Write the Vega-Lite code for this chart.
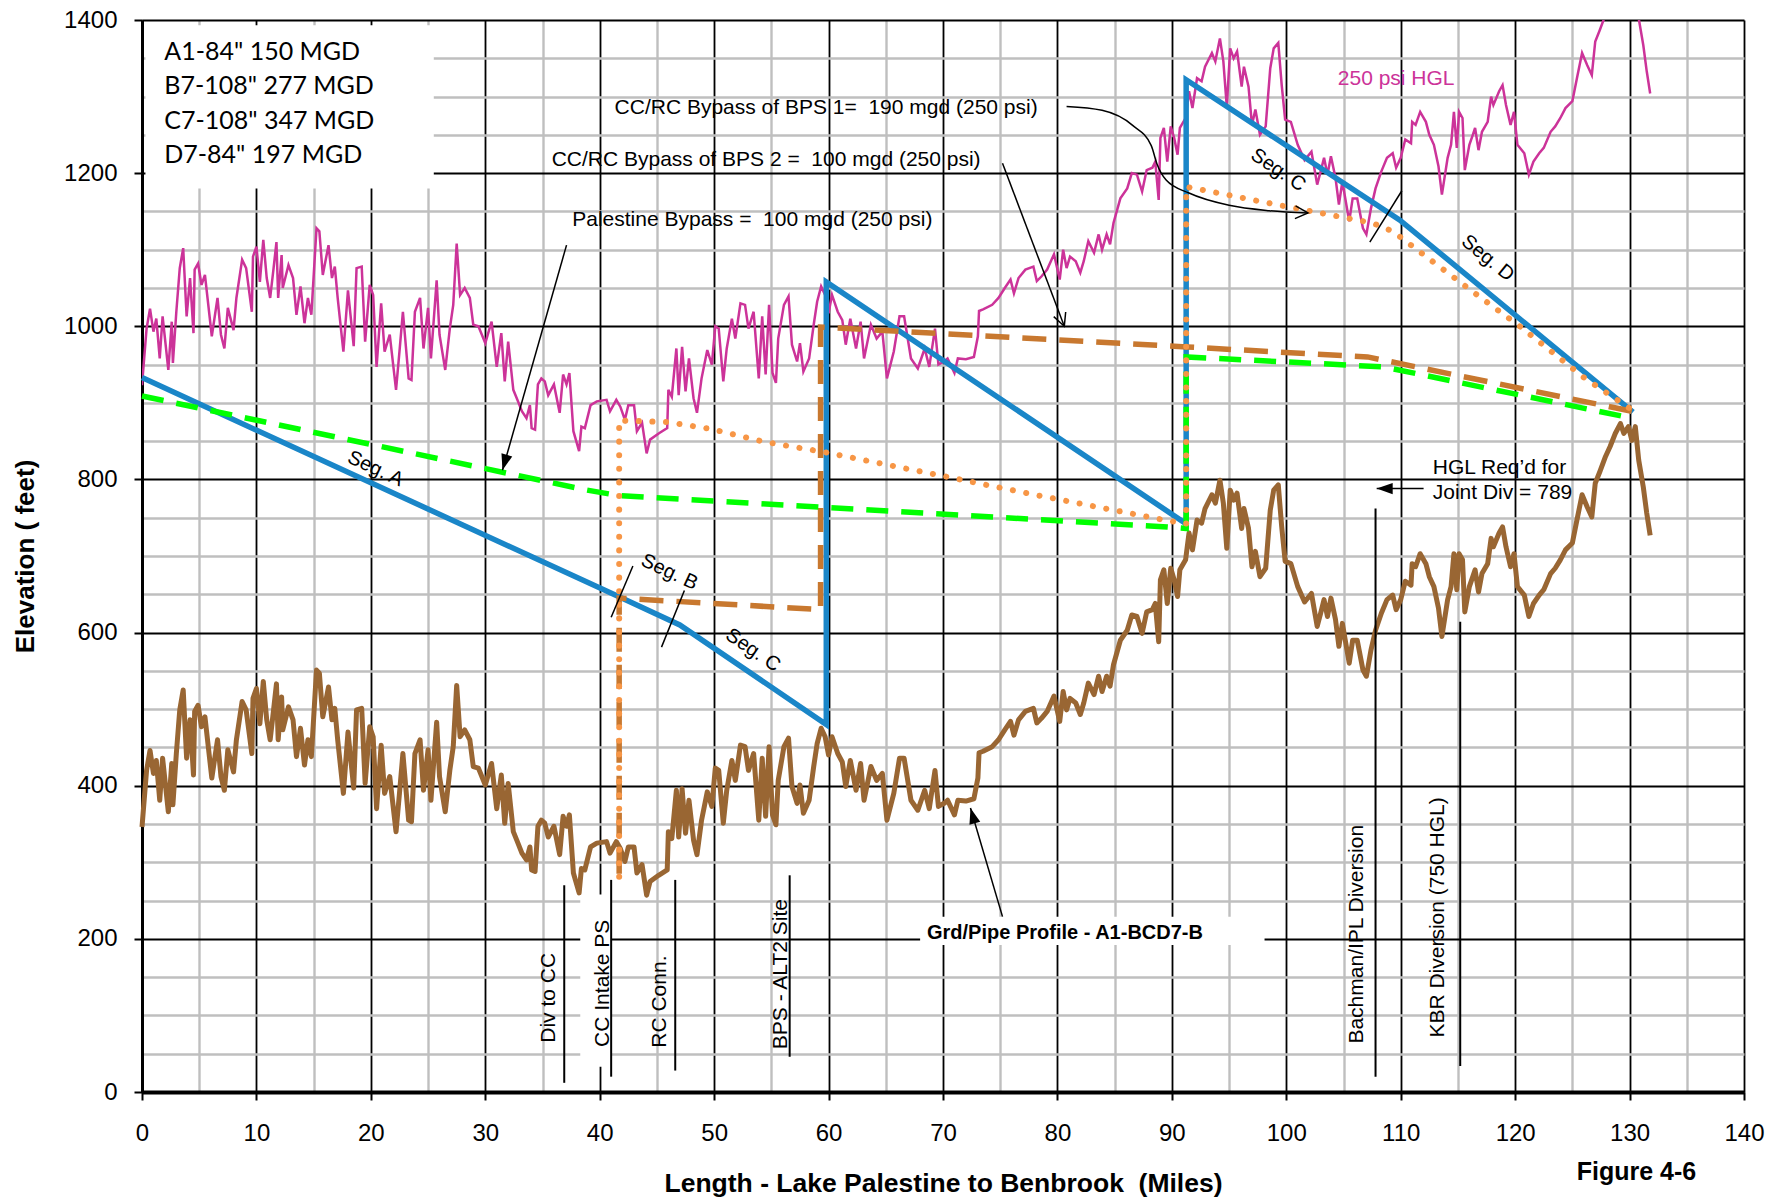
{
"$schema":"https://vega.github.io/schema/vega-lite/v6.json",
"width":1602,"height":1072,
"autosize":{"type":"none"},
"padding":{"left":142,"top":20,"right":26,"bottom":106},
"background":"#ffffff",
"config":{"view":{"stroke":null},"font":"Liberation Sans"},
"datasets":{
"boxes":[{"m":0.3,"m2":25.5,"e":1180,"e2":1393},{"m":38.3,"m2":41.0,"e":33,"e2":258},{"m":68,"m2":98.1,"e":192,"e2":229}],
"ground":[{"m":0,"e":346},{"m":0.4,"e":420},{"m":0.7,"e":446},{"m":1,"e":416},{"m":1.25,"e":433},{"m":1.55,"e":381},{"m":1.8,"e":436},{"m":2.3,"e":366},{"m":2.6,"e":429},{"m":2.7,"e":375},{"m":3,"e":442},{"m":3.3,"e":499},{"m":3.6,"e":525},{"m":3.9,"e":436},{"m":4.2,"e":486},{"m":4.5,"e":414},{"m":4.6,"e":497},{"m":4.9,"e":505},{"m":5.2,"e":477},{"m":5.5,"e":490},{"m":6.1,"e":410},{"m":6.6,"e":460},{"m":6.9,"e":412},{"m":7.2,"e":394},{"m":7.5,"e":447},{"m":8,"e":418},{"m":8.25,"e":460},{"m":8.75,"e":510},{"m":9.1,"e":499},{"m":9.6,"e":442},{"m":9.7,"e":514},{"m":10,"e":527},{"m":10.3,"e":481},{"m":10.6,"e":536},{"m":10.9,"e":486},{"m":11.2,"e":460},{"m":11.5,"e":499},{"m":11.75,"e":533},{"m":11.9,"e":460},{"m":12.2,"e":516},{"m":12.3,"e":473},{"m":12.8,"e":503},{"m":13.2,"e":486},{"m":13.5,"e":438},{"m":13.85,"e":475},{"m":14.2,"e":427},{"m":14.5,"e":460},{"m":14.8,"e":438},{"m":15.25,"e":551},{"m":15.5,"e":547},{"m":15.8,"e":490},{"m":16.3,"e":529},{"m":16.6,"e":486},{"m":16.85,"e":501},{"m":17.1,"e":460},{"m":17.6,"e":390},{"m":18,"e":470},{"m":18.5,"e":397},{"m":18.75,"e":499},{"m":19.2,"e":501},{"m":19.5,"e":403},{"m":19.9,"e":477},{"m":20.2,"e":464},{"m":20.5,"e":370},{"m":20.9,"e":453},{"m":21.2,"e":390},{"m":21.65,"e":412},{"m":22.2,"e":340},{"m":22.5,"e":390},{"m":22.8,"e":442},{"m":23.3,"e":355},{"m":23.55,"e":353},{"m":23.85,"e":442},{"m":24.3,"e":460},{"m":24.6,"e":394},{"m":25,"e":447},{"m":25.25,"e":381},{"m":25.75,"e":483},{"m":26,"e":412},{"m":26.5,"e":366},{"m":26.9,"e":420},{"m":27.2,"e":451},{"m":27.5,"e":531},{"m":27.8,"e":464},{"m":28.2,"e":473},{"m":28.65,"e":460},{"m":28.95,"e":425},{"m":29.4,"e":423},{"m":30,"e":401},{"m":30.55,"e":429},{"m":31,"e":370},{"m":31.4,"e":414},{"m":31.7,"e":351},{"m":32,"e":403},{"m":32.45,"e":340},{"m":32.75,"e":329},{"m":33.2,"e":312},{"m":33.6,"e":303},{"m":33.9,"e":320},{"m":34.05,"e":290},{"m":34.35,"e":288},{"m":34.6,"e":347},{"m":34.9,"e":355},{"m":35.2,"e":351},{"m":35.5,"e":333},{"m":36,"e":347},{"m":36.5,"e":310},{"m":36.8,"e":360},{"m":37.1,"e":347},{"m":37.35,"e":362},{"m":37.7,"e":286},{"m":38.2,"e":260},{"m":38.4,"e":292},{"m":38.7,"e":290},{"m":39.2,"e":320},{"m":39.75,"e":325},{"m":40.6,"e":327},{"m":40.9,"e":312},{"m":41.45,"e":327},{"m":41.8,"e":318},{"m":42.2,"e":301},{"m":42.5,"e":320},{"m":43,"e":320},{"m":43.25,"e":286},{"m":43.7,"e":297},{"m":44.1,"e":257},{"m":44.4,"e":275},{"m":45.15,"e":283},{"m":45.9,"e":290},{"m":46,"e":340},{"m":46.3,"e":331},{"m":46.7,"e":394},{"m":46.9,"e":333},{"m":47.2,"e":396},{"m":47.5,"e":338},{"m":47.8,"e":381},{"m":48.2,"e":329},{"m":48.5,"e":310},{"m":48.9,"e":355},{"m":49.4,"e":392},{"m":49.8,"e":373},{"m":50.1,"e":423},{"m":50.4,"e":420},{"m":50.8,"e":351},{"m":51.1,"e":394},{"m":51.55,"e":433},{"m":51.85,"e":407},{"m":52.3,"e":453},{"m":52.7,"e":451},{"m":53,"e":420},{"m":53.45,"e":442},{"m":53.9,"e":355},{"m":54.2,"e":436},{"m":54.5,"e":360},{"m":54.8,"e":451},{"m":55.1,"e":362},{"m":55.4,"e":349},{"m":55.6,"e":407},{"m":56.1,"e":451},{"m":56.5,"e":462},{"m":56.8,"e":399},{"m":57.25,"e":377},{"m":57.5,"e":401},{"m":57.8,"e":364},{"m":58.3,"e":381},{"m":58.7,"e":425},{"m":59,"e":455},{"m":59.35,"e":475},{"m":59.7,"e":464},{"m":60,"e":440},{"m":60.3,"e":464},{"m":60.8,"e":442},{"m":61.2,"e":431},{"m":61.5,"e":399},{"m":61.9,"e":433},{"m":62.4,"e":394},{"m":62.8,"e":429},{"m":63.1,"e":381},{"m":63.7,"e":425},{"m":64.2,"e":407},{"m":64.7,"e":416},{"m":65.1,"e":355},{"m":65.7,"e":390},{"m":66.2,"e":436},{"m":66.6,"e":436},{"m":67.2,"e":381},{"m":67.8,"e":368},{"m":68.4,"e":394},{"m":68.8,"e":370},{"m":69.3,"e":420},{"m":69.6,"e":373},{"m":70.1,"e":377},{"m":70.4,"e":381},{"m":71,"e":362},{"m":71.3,"e":381},{"m":72,"e":380},{"m":72.7,"e":383},{"m":73.05,"e":410},{"m":73.15,"e":443},{"m":73.5,"e":445},{"m":74.3,"e":451},{"m":74.85,"e":460},{"m":75.4,"e":473},{"m":75.9,"e":484},{"m":76.2,"e":466},{"m":76.6,"e":486},{"m":77.2,"e":497},{"m":77.9,"e":501},{"m":78.2,"e":482},{"m":78.6,"e":488},{"m":79.1,"e":497},{"m":79.7,"e":517},{"m":80.2,"e":484},{"m":80.5,"e":523},{"m":80.8,"e":499},{"m":81.1,"e":514},{"m":81.6,"e":508},{"m":82,"e":493},{"m":82.3,"e":508},{"m":82.7,"e":534},{"m":83.2,"e":519},{"m":83.6,"e":543},{"m":83.9,"e":523},{"m":84.3,"e":543},{"m":84.6,"e":530},{"m":84.9,"e":558},{"m":85.5,"e":590},{"m":86.1,"e":603},{"m":86.5,"e":623},{"m":86.95,"e":621},{"m":87.4,"e":599},{"m":87.8,"e":627},{"m":88.3,"e":630},{"m":88.55,"e":638},{"m":88.85,"e":588},{"m":89,"e":669},{"m":89.3,"e":682},{"m":89.6,"e":638},{"m":89.9,"e":684},{"m":90.2,"e":669},{"m":90.5,"e":647},{"m":90.7,"e":682},{"m":91.2,"e":695},{"m":91.5,"e":730},{"m":91.8,"e":708},{"m":92.2,"e":747},{"m":92.6,"e":743},{"m":92.9,"e":762},{"m":93.5,"e":780},{"m":93.8,"e":769},{"m":94.2,"e":799},{"m":94.5,"e":769},{"m":94.8,"e":710},{"m":95.1,"e":786},{"m":95.4,"e":773},{"m":95.7,"e":782},{"m":96.1,"e":736},{"m":96.3,"e":762},{"m":96.7,"e":736},{"m":97,"e":686},{"m":97.3,"e":706},{"m":97.7,"e":673},{"m":98.2,"e":684},{"m":98.6,"e":760},{"m":98.9,"e":786},{"m":99.3,"e":793},{"m":99.6,"e":738},{"m":99.9,"e":693},{"m":100.4,"e":690},{"m":101,"e":660},{"m":101.6,"e":640},{"m":102.2,"e":651},{"m":102.7,"e":608},{"m":103,"e":625},{"m":103.3,"e":643},{"m":103.6,"e":621},{"m":103.9,"e":645},{"m":104.3,"e":617},{"m":104.6,"e":582},{"m":104.9,"e":612},{"m":105.5,"e":560},{"m":105.8,"e":590},{"m":106.2,"e":590},{"m":106.7,"e":551},{"m":107,"e":543},{"m":107.4,"e":577},{"m":107.8,"e":603},{"m":108.3,"e":625},{"m":108.8,"e":643},{"m":109.3,"e":649},{"m":109.6,"e":630},{"m":110,"e":643},{"m":110.4,"e":667},{"m":110.9,"e":662},{"m":111,"e":690},{"m":111.3,"e":686},{"m":111.7,"e":703},{"m":112.2,"e":690},{"m":112.5,"e":673},{"m":112.9,"e":660},{"m":113.3,"e":632},{"m":113.6,"e":595},{"m":114.1,"e":643},{"m":114.4,"e":660},{"m":114.65,"e":703},{"m":114.9,"e":656},{"m":115.1,"e":703},{"m":115.4,"e":695},{"m":115.6,"e":627},{"m":116,"e":660},{"m":116.3,"e":673},{"m":116.5,"e":682},{"m":116.8,"e":653},{"m":117.1,"e":677},{"m":117.6,"e":690},{"m":117.9,"e":723},{"m":118.1,"e":712},{"m":118.6,"e":730},{"m":118.9,"e":738},{"m":119.2,"e":712},{"m":119.6,"e":686},{"m":119.9,"e":703},{"m":120.2,"e":660},{"m":120.8,"e":649},{"m":121.2,"e":621},{"m":121.6,"e":638},{"m":122.1,"e":649},{"m":122.5,"e":656},{"m":123.1,"e":677},{"m":123.5,"e":684},{"m":123.95,"e":695},{"m":124.4,"e":708},{"m":125,"e":717},{"m":125.4,"e":747},{"m":125.85,"e":780},{"m":126.3,"e":764},{"m":126.7,"e":751},{"m":127,"e":795},{"m":127.4,"e":810},{"m":127.9,"e":830},{"m":128.3,"e":843},{"m":128.75,"e":860},{"m":129.2,"e":873},{"m":129.5,"e":860},{"m":129.9,"e":869},{"m":130.2,"e":851},{"m":130.5,"e":869},{"m":130.8,"e":825},{"m":131.2,"e":790},{"m":131.5,"e":756},{"m":131.8,"e":727}],
"hgl":[{"m":0,"e":923},{"m":0.4,"e":997},{"m":0.7,"e":1023},{"m":1,"e":993},{"m":1.25,"e":1010},{"m":1.55,"e":958},{"m":1.8,"e":1013},{"m":2.3,"e":943},{"m":2.6,"e":1006},{"m":2.7,"e":952},{"m":3,"e":1019},{"m":3.3,"e":1076},{"m":3.6,"e":1102},{"m":3.9,"e":1013},{"m":4.2,"e":1063},{"m":4.5,"e":991},{"m":4.6,"e":1074},{"m":4.9,"e":1082},{"m":5.2,"e":1054},{"m":5.5,"e":1067},{"m":6.1,"e":987},{"m":6.6,"e":1037},{"m":6.9,"e":989},{"m":7.2,"e":971},{"m":7.5,"e":1024},{"m":8,"e":995},{"m":8.25,"e":1037},{"m":8.75,"e":1087},{"m":9.1,"e":1076},{"m":9.6,"e":1019},{"m":9.7,"e":1091},{"m":10,"e":1104},{"m":10.3,"e":1058},{"m":10.6,"e":1113},{"m":10.9,"e":1063},{"m":11.2,"e":1037},{"m":11.5,"e":1076},{"m":11.75,"e":1110},{"m":11.9,"e":1037},{"m":12.2,"e":1093},{"m":12.3,"e":1050},{"m":12.8,"e":1080},{"m":13.2,"e":1063},{"m":13.5,"e":1015},{"m":13.85,"e":1052},{"m":14.2,"e":1004},{"m":14.5,"e":1037},{"m":14.8,"e":1015},{"m":15.25,"e":1128},{"m":15.5,"e":1124},{"m":15.8,"e":1067},{"m":16.3,"e":1106},{"m":16.6,"e":1063},{"m":16.85,"e":1078},{"m":17.1,"e":1037},{"m":17.6,"e":967},{"m":18,"e":1047},{"m":18.5,"e":974},{"m":18.75,"e":1076},{"m":19.2,"e":1078},{"m":19.5,"e":980},{"m":19.9,"e":1054},{"m":20.2,"e":1041},{"m":20.5,"e":947},{"m":20.9,"e":1030},{"m":21.2,"e":967},{"m":21.65,"e":989},{"m":22.2,"e":917},{"m":22.5,"e":967},{"m":22.8,"e":1019},{"m":23.3,"e":932},{"m":23.55,"e":930},{"m":23.85,"e":1019},{"m":24.3,"e":1037},{"m":24.6,"e":971},{"m":25,"e":1024},{"m":25.25,"e":958},{"m":25.75,"e":1060},{"m":26,"e":989},{"m":26.5,"e":943},{"m":26.9,"e":997},{"m":27.2,"e":1028},{"m":27.5,"e":1108},{"m":27.8,"e":1041},{"m":28.2,"e":1050},{"m":28.65,"e":1037},{"m":28.95,"e":1002},{"m":29.4,"e":1000},{"m":30,"e":978},{"m":30.55,"e":1006},{"m":31,"e":947},{"m":31.4,"e":991},{"m":31.7,"e":928},{"m":32,"e":980},{"m":32.45,"e":917},{"m":32.75,"e":906},{"m":33.2,"e":889},{"m":33.6,"e":880},{"m":33.9,"e":897},{"m":34.05,"e":867},{"m":34.35,"e":865},{"m":34.6,"e":924},{"m":34.9,"e":932},{"m":35.2,"e":928},{"m":35.5,"e":910},{"m":36,"e":924},{"m":36.5,"e":887},{"m":36.8,"e":937},{"m":37.1,"e":924},{"m":37.35,"e":939},{"m":37.7,"e":863},{"m":38.2,"e":837},{"m":38.4,"e":869},{"m":38.7,"e":867},{"m":39.2,"e":897},{"m":39.75,"e":902},{"m":40.6,"e":904},{"m":40.9,"e":889},{"m":41.45,"e":904},{"m":41.8,"e":895},{"m":42.2,"e":878},{"m":42.5,"e":897},{"m":43,"e":897},{"m":43.25,"e":863},{"m":43.7,"e":874},{"m":44.1,"e":834},{"m":44.4,"e":852},{"m":45.15,"e":860},{"m":45.9,"e":867},{"m":46,"e":917},{"m":46.3,"e":908},{"m":46.7,"e":971},{"m":46.9,"e":910},{"m":47.2,"e":973},{"m":47.5,"e":915},{"m":47.8,"e":958},{"m":48.2,"e":906},{"m":48.5,"e":887},{"m":48.9,"e":932},{"m":49.4,"e":969},{"m":49.8,"e":950},{"m":50.1,"e":1000},{"m":50.4,"e":997},{"m":50.8,"e":928},{"m":51.1,"e":971},{"m":51.55,"e":1010},{"m":51.85,"e":984},{"m":52.3,"e":1030},{"m":52.7,"e":1028},{"m":53,"e":997},{"m":53.45,"e":1019},{"m":53.9,"e":932},{"m":54.2,"e":1013},{"m":54.5,"e":937},{"m":54.8,"e":1028},{"m":55.1,"e":939},{"m":55.4,"e":926},{"m":55.6,"e":984},{"m":56.1,"e":1028},{"m":56.5,"e":1039},{"m":56.8,"e":976},{"m":57.25,"e":954},{"m":57.5,"e":978},{"m":57.8,"e":941},{"m":58.3,"e":958},{"m":58.7,"e":1002},{"m":59,"e":1032},{"m":59.35,"e":1052},{"m":59.7,"e":1041},{"m":60,"e":1017},{"m":60.3,"e":1041},{"m":60.8,"e":1019},{"m":61.2,"e":1008},{"m":61.5,"e":976},{"m":61.9,"e":1010},{"m":62.4,"e":971},{"m":62.8,"e":1006},{"m":63.1,"e":958},{"m":63.7,"e":1002},{"m":64.2,"e":984},{"m":64.7,"e":993},{"m":65.1,"e":932},{"m":65.7,"e":967},{"m":66.2,"e":1013},{"m":66.6,"e":1013},{"m":67.2,"e":958},{"m":67.8,"e":945},{"m":68.4,"e":971},{"m":68.8,"e":947},{"m":69.3,"e":997},{"m":69.6,"e":950},{"m":70.1,"e":954},{"m":70.4,"e":958},{"m":71,"e":939},{"m":71.3,"e":958},{"m":72,"e":957},{"m":72.7,"e":960},{"m":73.05,"e":987},{"m":73.15,"e":1020},{"m":73.5,"e":1022},{"m":74.3,"e":1028},{"m":74.85,"e":1037},{"m":75.4,"e":1050},{"m":75.9,"e":1061},{"m":76.2,"e":1043},{"m":76.6,"e":1063},{"m":77.2,"e":1074},{"m":77.9,"e":1078},{"m":78.2,"e":1059},{"m":78.6,"e":1065},{"m":79.1,"e":1074},{"m":79.7,"e":1094},{"m":80.2,"e":1061},{"m":80.5,"e":1100},{"m":80.8,"e":1076},{"m":81.1,"e":1091},{"m":81.6,"e":1085},{"m":82,"e":1070},{"m":82.3,"e":1085},{"m":82.7,"e":1111},{"m":83.2,"e":1096},{"m":83.6,"e":1120},{"m":83.9,"e":1100},{"m":84.3,"e":1120},{"m":84.6,"e":1107},{"m":84.9,"e":1135},{"m":85.5,"e":1167},{"m":86.1,"e":1180},{"m":86.5,"e":1200},{"m":86.95,"e":1198},{"m":87.4,"e":1176},{"m":87.8,"e":1204},{"m":88.3,"e":1207},{"m":88.55,"e":1215},{"m":88.85,"e":1165},{"m":89,"e":1246},{"m":89.3,"e":1259},{"m":89.6,"e":1215},{"m":89.9,"e":1261},{"m":90.2,"e":1246},{"m":90.5,"e":1224},{"m":90.7,"e":1259},{"m":91.2,"e":1272},{"m":91.5,"e":1307},{"m":91.8,"e":1285},{"m":92.2,"e":1324},{"m":92.6,"e":1320},{"m":92.9,"e":1339},{"m":93.5,"e":1357},{"m":93.8,"e":1346},{"m":94.2,"e":1376},{"m":94.5,"e":1346},{"m":94.8,"e":1287},{"m":95.1,"e":1363},{"m":95.4,"e":1350},{"m":95.7,"e":1359},{"m":96.1,"e":1313},{"m":96.3,"e":1339},{"m":96.7,"e":1313},{"m":97,"e":1263},{"m":97.3,"e":1283},{"m":97.7,"e":1250},{"m":98.2,"e":1261},{"m":98.6,"e":1337},{"m":98.9,"e":1363},{"m":99.3,"e":1370},{"m":99.6,"e":1315},{"m":99.9,"e":1270},{"m":100.4,"e":1267},{"m":101,"e":1237},{"m":101.6,"e":1217},{"m":102.2,"e":1228},{"m":102.7,"e":1185},{"m":103,"e":1202},{"m":103.3,"e":1220},{"m":103.6,"e":1198},{"m":103.9,"e":1222},{"m":104.3,"e":1194},{"m":104.6,"e":1159},{"m":104.9,"e":1189},{"m":105.5,"e":1137},{"m":105.8,"e":1167},{"m":106.2,"e":1167},{"m":106.7,"e":1128},{"m":107,"e":1120},{"m":107.4,"e":1154},{"m":107.8,"e":1180},{"m":108.3,"e":1202},{"m":108.8,"e":1220},{"m":109.3,"e":1226},{"m":109.6,"e":1207},{"m":110,"e":1220},{"m":110.4,"e":1244},{"m":110.9,"e":1239},{"m":111,"e":1267},{"m":111.3,"e":1263},{"m":111.7,"e":1280},{"m":112.2,"e":1267},{"m":112.5,"e":1250},{"m":112.9,"e":1237},{"m":113.3,"e":1209},{"m":113.6,"e":1172},{"m":114.1,"e":1220},{"m":114.4,"e":1237},{"m":114.65,"e":1280},{"m":114.9,"e":1233},{"m":115.1,"e":1280},{"m":115.4,"e":1272},{"m":115.6,"e":1204},{"m":116,"e":1237},{"m":116.3,"e":1250},{"m":116.5,"e":1259},{"m":116.8,"e":1230},{"m":117.1,"e":1254},{"m":117.6,"e":1267},{"m":117.9,"e":1300},{"m":118.1,"e":1289},{"m":118.6,"e":1307},{"m":118.9,"e":1315},{"m":119.2,"e":1289},{"m":119.6,"e":1263},{"m":119.9,"e":1280},{"m":120.2,"e":1237},{"m":120.8,"e":1226},{"m":121.2,"e":1198},{"m":121.6,"e":1215},{"m":122.1,"e":1226},{"m":122.5,"e":1233},{"m":123.1,"e":1254},{"m":123.5,"e":1261},{"m":123.95,"e":1272},{"m":124.4,"e":1285},{"m":125,"e":1294},{"m":125.4,"e":1324},{"m":125.85,"e":1357},{"m":126.3,"e":1341},{"m":126.7,"e":1328},{"m":127,"e":1372},{"m":127.4,"e":1387},{"m":127.9,"e":1407},{"m":128.3,"e":1420},{"m":128.75,"e":1437},{"m":129.2,"e":1450},{"m":129.5,"e":1437},{"m":129.9,"e":1446},{"m":130.2,"e":1428},{"m":130.5,"e":1446},{"m":130.8,"e":1402},{"m":131.2,"e":1367},{"m":131.5,"e":1333},{"m":131.8,"e":1304}],
"blue":[{"m":0,"e":933},{"m":41.5,"e":648},{"m":47,"e":610},{"m":59.8,"e":480},{"m":59.8,"e":1058},{"m":91.25,"e":742},{"m":91.25,"e":1322},{"m":109.9,"e":1139},{"m":130.3,"e":888}],
"green":[{"m":0,"e":909},{"m":38.9,"e":786},{"m":41.6,"e":779},{"m":59.1,"e":764},{"m":89.6,"e":738},{"m":91.25,"e":736},{"m":91.25,"e":960},{"m":108.5,"e":947},{"m":130.2,"e":880}],
"brownd":[{"m":41.7,"e":285},{"m":41.7,"e":645},{"m":59.3,"e":630},{"m":59.3,"e":999},{"m":91.3,"e":973},{"m":107.1,"e":960},{"m":130.2,"e":889}],
"orange":[{"m":41.7,"e":281},{"m":41.7,"e":877},{"m":45.8,"e":875},{"m":49.7,"e":866},{"m":54.4,"e":849},{"m":59.5,"e":836},{"m":70.5,"e":803},{"m":78,"e":780},{"m":89,"e":748},{"m":91.25,"e":742},{"m":91.25,"e":1182},{"m":93.4,"e":1176},{"m":98.4,"e":1161},{"m":103.3,"e":1147},{"m":107.5,"e":1135},{"m":109.3,"e":1124},{"m":112.4,"e":1089},{"m":116.4,"e":1044},{"m":120.4,"e":1000},{"m":126.1,"e":932},{"m":130.2,"e":891}],
"stations":[{"m":36.9,"e":12,"e2":270},{"m":41.0,"e":20,"e2":277},{"m":46.6,"e":28,"e2":277},{"m":56.6,"e":46,"e2":283},{"m":107.8,"e":20,"e2":762},{"m":115.2,"e":34,"e2":614}],
"slashes":[{"m":41.0,"e":620,"m2":42.9,"e2":687},{"m":45.4,"e":581,"m2":47.4,"e2":655},{"m":107.3,"e":1110,"m2":110.1,"e2":1177}],
"shafts":[{"m":37.1,"e":1106,"m2":31.5,"e2":812},{"m":75.2,"e":1213,"m2":80.6,"e2":1000},{"m":75.2,"e":229,"m2":72.4,"e2":371},{"m":112.0,"e":788,"m2":107.9,"e2":788}],
"curve":[{"m":80.8,"e":1287},{"m":83.9,"e":1282},{"m":86.6,"e":1262},{"m":88.2,"e":1236},{"m":88.7,"e":1212},{"m":89.5,"e":1191},{"m":91.5,"e":1174},{"m":95.0,"e":1158},{"m":98.5,"e":1151},{"m":101.9,"e":1148}],
"legend":[{"m":1.95,"e":1358.6,"t":"A1-84\" 150 MGD"},{"m":1.95,"e":1313.8,"t":"B7-108\" 277 MGD"},{"m":1.95,"e":1268.5,"t":"C7-108\" 347 MGD"},{"m":1.95,"e":1223.7,"t":"D7-84\" 197 MGD"}],
"notes":[{"m":41.3,"e":1285,"t":"CC/RC Bypass of BPS 1=\u00a0 190 mgd (250 psi)"},{"m":35.8,"e":1217,"t":"CC/RC Bypass of BPS 2 =\u00a0 100 mgd (250 psi)"},{"m":37.6,"e":1139,"t":"Palestine Bypass =\u00a0 100 mgd (250 psi)"},{"m":112.8,"e":814.5,"t":"HGL Req’d for"},{"m":112.8,"e":782,"t":"Joint Div = 789"}],
"stationText":[{"m":35.6,"e":123,"t":"Div to CC"},{"m":40.3,"e":142,"t":"CC Intake PS"},{"m":45.3,"e":118,"t":"RC Conn."},{"m":55.8,"e":154,"t":"BPS - ALT2 Site"},{"m":106.2,"e":206,"t":"Bachman/IPL Diversion"},{"m":113.3,"e":228,"t":"KBR Diversion (750 HGL)"}]
},
"encoding":{
"x":{"field":"m","type":"quantitative","scale":{"domain":[0,140],"nice":false,"zero":false},
"axis":{"values":[0,5,10,15,20,25,30,35,40,45,50,55,60,65,70,75,80,85,90,95,100,105,110,115,120,125,130,135,140],
"title":"Length - Lake Palestine to Benbrook\u00a0 (Miles)","format":"d",
"labelExpr":"datum.value % 10 === 0 ? datum.label : ''","labelOverlap":false,"labelFlush":false,
"labelFontSize":24,"labelColor":"#000000","labelPadding":21,
"tickSize":8,"tickWidth":2,"tickColor":"#000000",
"tickOpacity":{"condition":{"test":"datum.value % 10 === 0","value":1},"value":0},
"grid":true,"gridOpacity":1,
"gridColor":{"condition":{"test":"datum.value % 10 === 0","value":"#000000"},"value":"#bfbfbf"},
"gridWidth":{"condition":{"test":"datum.value % 10 === 0","value":1.8},"value":2.4},
"domainColor":"#000000","domainWidth":4,
"titleFontSize":26.5,"titleFontWeight":"bold","titleColor":"#000000","titleX":801,"titleY":91,"titleBaseline":"middle","titleAlign":"center"}},
"y":{"field":"e","type":"quantitative","scale":{"domain":[0,1400],"nice":false,"zero":false},
"axis":{"values":[0,50,100,150,200,250,300,350,400,450,500,550,600,650,700,750,800,850,900,950,1000,1050,1100,1150,1200,1250,1300,1350,1400],
"title":"Elevation ( feet)","format":"d",
"labelExpr":"datum.value % 200 === 0 ? datum.label : ''","labelOverlap":false,"labelFlush":false,
"labelFontSize":24,"labelColor":"#000000","labelPadding":17,
"tickSize":8,"tickWidth":2,"tickColor":"#000000",
"tickOpacity":{"condition":{"test":"datum.value % 200 === 0","value":1},"value":0},
"grid":true,"gridOpacity":1,
"gridColor":{"condition":{"test":"datum.value % 200 === 0","value":"#000000"},"value":"#bfbfbf"},
"gridWidth":{"condition":{"test":"datum.value % 200 === 0","value":1.8},"value":2.4},
"domainColor":"#000000","domainWidth":3,
"titleFontSize":26,"titleFontWeight":"bold","titleColor":"#000000","titleX":-117,"titleY":536,"titleAngle":270,"titleBaseline":"middle","titleAlign":"center"}}
},
"layer":[
{"data":{"name":"boxes"},"mark":{"type":"rect","fill":"#ffffff","strokeWidth":0},"encoding":{"x2":{"field":"m2"},"y2":{"field":"e2"}}},
{"data":{"name":"hgl"},"mark":{"type":"line","color":"#cc3399","strokeWidth":2.5,"clip":true}},
{"data":{"name":"ground"},"mark":{"type":"line","color":"#996633","strokeWidth":5,"strokeJoin":"round"}},
{"data":{"name":"blue"},"mark":{"type":"line","color":"#1a86c8","strokeWidth":5.5},"encoding":{"order":{"value":null}}},
{"data":{"name":"brownd"},"mark":{"type":"line","color":"#c8782f","strokeWidth":5.5,"strokeDash":[24,13]},"encoding":{"order":{"value":null}}},
{"data":{"name":"green"},"mark":{"type":"line","color":"#00ff00","strokeWidth":5.5,"strokeDash":[22,13]},"encoding":{"order":{"value":null}}},
{"data":{"name":"orange"},"mark":{"type":"line","color":"#f79646","strokeWidth":6,"strokeDash":[0.1,13.5],"strokeCap":"round"},"encoding":{"order":{"value":null}}},
{"data":{"name":"stations"},"mark":{"type":"rule","color":"#000000","strokeWidth":2},"encoding":{"y2":{"field":"e2"}}},
{"data":{"name":"slashes"},"mark":{"type":"rule","color":"#000000","strokeWidth":1.5},"encoding":{"x2":{"field":"m2"},"y2":{"field":"e2"}}},
{"data":{"name":"shafts"},"mark":{"type":"rule","color":"#000000","strokeWidth":1.5},"encoding":{"x2":{"field":"m2"},"y2":{"field":"e2"}}},
{"data":{"name":"curve"},"mark":{"type":"line","color":"#000000","strokeWidth":1.5,"interpolate":"monotone"},"encoding":{"order":{"value":null}}},
{"data":{"values":[{"m":31.5,"e":812}]},"mark":{"type":"point","shape":"M0,0L-0.7,2L0.7,2Z","filled":true,"color":"#000000","size":256,"angle":196,"opacity":1}},
{"data":{"values":[{"m":72.4,"e":371}]},"mark":{"type":"point","shape":"M0,0L-0.7,2L0.7,2Z","filled":true,"color":"#000000","size":256,"angle":344,"opacity":1}},
{"data":{"values":[{"m":107.9,"e":788}]},"mark":{"type":"point","shape":"M0,0L-0.7,2L0.7,2Z","filled":true,"color":"#000000","size":256,"angle":270,"opacity":1}},
{"data":{"values":[{"m":80.6,"e":1000}]},"mark":{"type":"point","shape":"M-0.8,1.6L0,0L0.8,1.6","filled":false,"color":"#000000","strokeWidth":1.5,"size":256,"angle":159,"opacity":1}},
{"data":{"values":[{"m":101.9,"e":1148}]},"mark":{"type":"point","shape":"M-0.8,1.6L0,0L0.8,1.6","filled":false,"color":"#000000","strokeWidth":1.5,"size":256,"angle":93,"opacity":1}},
{"data":{"name":"legend"},"mark":{"type":"text","font":"Lato","fontSize":25,"align":"left","baseline":"middle","color":"#000000"},"encoding":{"text":{"field":"t","type":"nominal"}}},
{"data":{"name":"notes"},"mark":{"type":"text","fontSize":21,"align":"left","baseline":"middle","color":"#000000"},"encoding":{"text":{"field":"t","type":"nominal"}}},
{"data":{"values":[{"m":104.5,"e":1323,"t":"250 psi HGL"}]},"mark":{"type":"text","fontSize":21,"align":"left","baseline":"middle","color":"#cc3399"},"encoding":{"text":{"field":"t","type":"nominal"}}},
{"data":{"name":"stationText"},"mark":{"type":"text","fontSize":21,"align":"center","baseline":"middle","angle":270,"color":"#000000"},"encoding":{"text":{"field":"t","type":"nominal"}}},
{"data":{"values":[{"m":68.6,"e":208,"t":"Grd/Pipe Profile - A1-BCD7-B"}]},"mark":{"type":"text","fontSize":20,"fontWeight":"bold","align":"left","baseline":"middle","color":"#000000"},"encoding":{"text":{"field":"t","type":"nominal"}}},
{"data":{"values":[{"m":20.4,"e":814,"t":"Seg. A"}]},"mark":{"type":"text","fontSize":20,"align":"center","baseline":"middle","angle":25,"color":"#000000"},"encoding":{"text":{"field":"t","type":"nominal"}}},
{"data":{"values":[{"m":46.1,"e":679,"t":"Seg. B"}]},"mark":{"type":"text","fontSize":20,"align":"center","baseline":"middle","angle":25,"color":"#000000"},"encoding":{"text":{"field":"t","type":"nominal"}}},
{"data":{"values":[{"m":53.4,"e":577,"t":"Seg. C"}]},"mark":{"type":"text","fontSize":20,"align":"center","baseline":"middle","angle":34,"color":"#000000"},"encoding":{"text":{"field":"t","type":"nominal"}}},
{"data":{"values":[{"m":99.3,"e":1204,"t":"Seg. C"}]},"mark":{"type":"text","fontSize":20,"align":"center","baseline":"middle","angle":34,"color":"#000000"},"encoding":{"text":{"field":"t","type":"nominal"}}},
{"data":{"values":[{"m":117.6,"e":1089,"t":"Seg. D"}]},"mark":{"type":"text","fontSize":20,"align":"center","baseline":"middle","angle":39,"color":"#000000"},"encoding":{"text":{"field":"t","type":"nominal"}}},
{"data":{"values":[{"m":130.6,"e":-104.5,"t":"Figure 4-6"}]},"mark":{"type":"text","fontSize":25,"fontWeight":"bold","align":"center","baseline":"middle","color":"#000000"},"encoding":{"text":{"field":"t","type":"nominal"}}}
]
}
